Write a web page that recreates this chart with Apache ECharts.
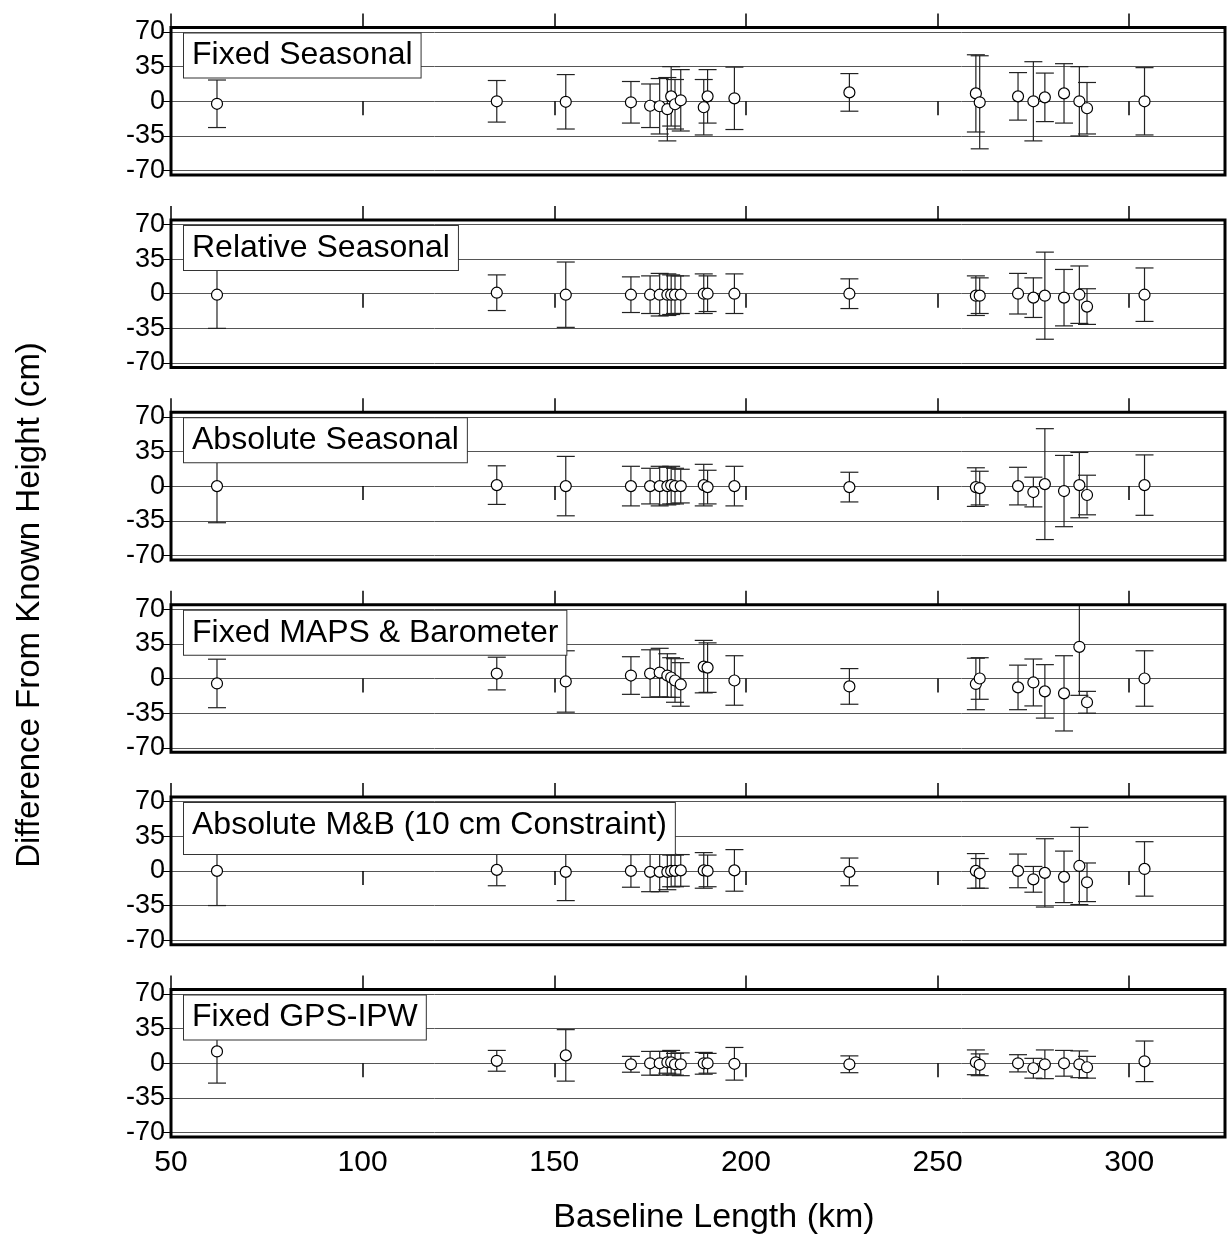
<!DOCTYPE html>
<html><head><meta charset="utf-8">
<script src="https://cdn.jsdelivr.net/npm/echarts@6/dist/echarts.min.js"></script>
<style>html,body{margin:0;padding:0;background:#fff}#c{width:1230px;height:1236px}</style>
</head><body><div id="c"></div>
<script>
// ---------- DATA ----------
const baselineKm = [62, 135, 153, 170, 175, 177.5, 179.5, 180.5, 181.5, 183, 189, 190, 197, 227, 260, 261, 271, 275, 278, 283, 287, 289, 304];
const panelNames = ['Fixed Seasonal', 'Relative Seasonal', 'Absolute Seasonal', 'Fixed MAPS & Barometer', 'Absolute M&B (10 cm Constraint)', 'Fixed GPS-IPW'];

const fixedSeasonalVal = [-2.5, 0, -0.5, -1, -4.5, -5, -8, 5, -3, 1, -6, 5, 3, 9, 8, -1, 5, 0, 4, 8, 0, -7, 0];
const fixedSeasonalErr = [24, 21, 27.5, 21, 22, 28, 32, 30, 25, 31, 28, 27, 31.5, 19, 39, 47, 24, 40, 24.5, 30, 35, 26, 34];

const relativeSeasonalVal = [-1, 1, -1, -1, -1, -1, -1, -1, -1, -1, 0, 0, 0, 0, -2, -2, 0, -4, -2, -4, -1, -13, -1];
const relativeSeasonalErr = [34, 18, 33, 18, 19, 21.5, 21, 20, 19, 19, 20, 18, 20, 15, 20, 18, 20.5, 20, 44, 28.5, 29, 18, 27];

const absoluteSeasonalVal = [0, 1, 0, 0, 0, 0, 0, 1, 0, 0, 1, -1, 0, -1, -1, -2, 0, -6, 2, -5, 1, -9, 1];
const absoluteSeasonalErr = [37, 19.5, 30, 20, 18, 20, 19, 19, 18, 17, 21, 17, 20, 15, 19.5, 17, 19, 15, 56, 36, 33, 20, 30.5];

const fixedMapsVal = [-5, 5, -3, 3, 5, 6, 3, 1, -2, -6, 12, 11, -2, -8, -5.5, 0, -9, -4, -13, -15, 32, -24, 0];
const fixedMapsErr = [24.5, 16.5, 31, 19, 24, 24.5, 22, 20, 22, 22, 26.5, 25, 25, 18, 26, 21, 22.5, 23.7, 27, 38, 49, 11, 28];

const absoluteMBVal = [0, 1, -1, 0, -1, -1, -1, 0, 0, 0.5, 0.5, 0, 0.5, -1, 0, -2.5, 0, -8.5, -2, -6, 5, -11.5, 2];
const absoluteMBErr = [35, 16, 29, 16.5, 20, 20, 18, 16, 16, 16, 18, 16, 21, 14, 17.5, 15, 17, 13, 34.5, 26, 39, 19.5, 27.5];

const fixedGpsVal = [12, 2.5, 8, -1, 0, 0, 1, 1, -1, -1, 0, 0, -0.5, -1, 1, -1.5, 0, -5, -1, 0, -1, -4, 2];
const fixedGpsErr = [32, 10.5, 26, 8, 12, 12, 11, 12, 11, 11.5, 11, 10, 16.5, 8.5, 12.5, 11, 8.7, 10, 14.5, 13, 13.5, 11, 20.5];

const panelVals = [fixedSeasonalVal, relativeSeasonalVal, absoluteSeasonalVal, fixedMapsVal, absoluteMBVal, fixedGpsVal];
const panelErrs = [fixedSeasonalErr, relativeSeasonalErr, absoluteSeasonalErr, fixedMapsErr, absoluteMBErr, fixedGpsErr];

const xTickValues = [50, 100, 150, 200, 250, 300];
const yTickValues = [-70, -35, 0, 35, 70];
const xTitle = 'Baseline Length (km)';
const yTitle = 'Difference From Known Height (cm)';

// ---------- LAYOUT ----------
const W = 1230, H = 1236;
const GRID_LEFT = 171, GRID_RIGHT = 5;
const ZERO0 = 101.3, STEP = 192.4, HALF = 69.3, FRAME_PAD = 4.5;
const Y_CLIP = 74;
const CAP_HALF = 9;
const FONT = '"Liberation Sans", Arial, Helvetica, sans-serif';
const labelPadding = [[6,8,6,8],[6,8,6,8],[6,8,6,8],[6,8,6,8],[6,8,13,8],[6,8,6,8]];

const chart = echarts.init(document.getElementById('c'), null, {renderer: 'canvas'});

const grids = [], xAxes = [], yAxes = [], series = [], graphics = [];
const gridWidth = W - GRID_LEFT - GRID_RIGHT;

function renderErrorBar(params, api) {
  const x = api.value(0), v = api.value(1), e = api.value(2);
  const hiRaw = v + e, loRaw = v - e;
  const hi = Math.min(hiRaw, Y_CLIP), lo = Math.max(loRaw, -Y_CLIP);
  const pT = api.coord([x, hi]), pB = api.coord([x, lo]);
  const st = {stroke: '#222', lineWidth: 1.2};
  const ch = [{type: 'line', shape: {x1: pT[0], y1: pT[1], x2: pB[0], y2: pB[1]}, style: st}];
  if (hiRaw <= Y_CLIP) ch.push({type: 'line', shape: {x1: pT[0] - CAP_HALF, y1: pT[1], x2: pT[0] + CAP_HALF, y2: pT[1]}, style: st});
  if (loRaw >= -Y_CLIP) ch.push({type: 'line', shape: {x1: pB[0] - CAP_HALF, y1: pB[1], x2: pB[0] + CAP_HALF, y2: pB[1]}, style: st});
  return {type: 'group', children: ch};
}

for (let i = 0; i < 6; i++) {
  const top = ZERO0 + STEP * i - HALF;
  grids.push({left: GRID_LEFT, right: GRID_RIGHT, top: top, height: 2 * HALF, containLabel: false});
  const isLast = i === 5;
  xAxes.push({
    type: 'value', gridIndex: i, min: 50, max: 325, position: 'bottom', offset: FRAME_PAD,
    axisLine: {show: false},
    axisTick: {show: true, inside: false, length: 14, customValues: xTickValues, lineStyle: {color: '#000', width: 1.5}},
    axisLabel: {show: isLast, customValues: xTickValues, margin: 11, color: '#000', fontSize: 30, fontFamily: FONT},
    splitLine: {show: false}
  });
  xAxes.push({
    type: 'value', gridIndex: i, min: 50, max: 325, position: 'top', offset: FRAME_PAD,
    axisLine: {show: false},
    axisTick: {show: true, inside: false, length: 14, customValues: xTickValues, lineStyle: {color: '#000', width: 1.5}},
    axisLabel: {show: false},
    splitLine: {show: false}
  });
  yAxes.push({
    type: 'value', gridIndex: i, min: -70, max: 70, interval: 35,
    axisLine: {show: false},
    axisTick: {show: true, inside: false, length: 9, lineStyle: {color: '#000', width: 1}},
    axisLabel: {show: true, margin: 6, color: '#000', fontSize: 27, fontFamily: FONT},
    splitLine: {show: true, lineStyle: {color: '#555', width: 1}}
  });
  const vals = panelVals[i], errs = panelErrs[i];
  const ebData = baselineKm.map((k, j) => [k, vals[j], errs[j]]);
  const ptData = baselineKm.map((k, j) => [k, vals[j]]);
  series.push({
    type: 'custom', name: panelNames[i] + ' error', xAxisIndex: 2 * i, yAxisIndex: i,
    renderItem: renderErrorBar, data: ebData, clip: false, silent: true, z: 2,
    encode: {x: 0, y: [1]}
  });
  series.push({
    type: 'scatter', name: panelNames[i], xAxisIndex: 2 * i, yAxisIndex: i,
    data: ptData, symbol: 'circle', symbolSize: 11, silent: true, z: 3,
    itemStyle: {color: '#fff', borderColor: '#000', borderWidth: 1.2, opacity: 1}
  });
  graphics.push({
    type: 'rect', z: 100, silent: true,
    shape: {x: GRID_LEFT, y: top - FRAME_PAD, width: gridWidth, height: 2 * HALF + 2 * FRAME_PAD},
    style: {fill: 'none', stroke: '#000', lineWidth: 3}
  });
  graphics.push({
    type: 'text', z: 110, silent: true, left: 183, top: top + 0.5,
    style: {
      text: panelNames[i], font: '32px ' + FONT, fill: '#000',
      backgroundColor: '#fff', borderColor: '#333', borderWidth: 1,
      padding: labelPadding[i]
    }
  });
}

graphics.push({
  type: 'text', z: 110, silent: true,
  x: 30, y: 605, rotation: Math.PI / 2,
  style: {text: yTitle, font: '33px ' + FONT, fill: '#000', align: 'center', verticalAlign: 'middle'}
});
graphics.push({
  type: 'text', z: 110, silent: true,
  x: 714, y: 1218,
  style: {text: xTitle, font: '34px ' + FONT, fill: '#000', align: 'center', verticalAlign: 'middle'}
});

chart.setOption({
  animation: false,
  backgroundColor: '#fff',
  grid: grids, xAxis: xAxes, yAxis: yAxes, series: series, graphic: graphics
});
</script></body></html>
